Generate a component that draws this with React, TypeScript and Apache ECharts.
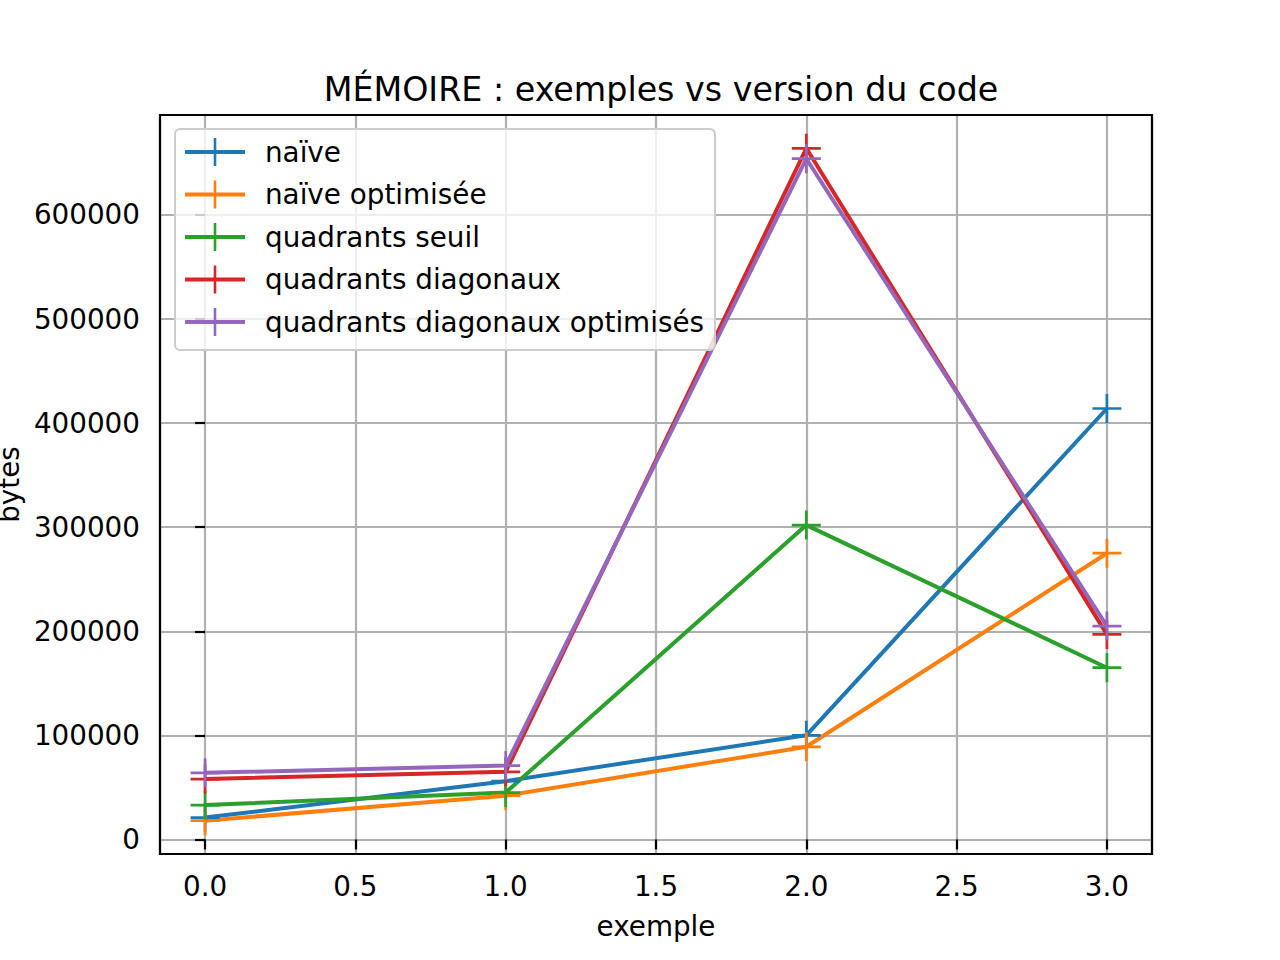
import React, { useEffect, useRef } from "react";
import * as echarts from "echarts";

const xValues = [0, 1, 2, 3];
const seriesNames = [
  "naïve",
  "naïve optimisée",
  "quadrants seuil",
  "quadrants diagonaux",
  "quadrants diagonaux optimisés",
];
const naive = [21000, 56000, 100000, 414000];
const naiveOpt = [18000, 42000, 89000, 275000];
const seuil = [33000, 45000, 302000, 165000];
const diag = [58000, 65000, 664000, 197000];
const diagOpt = [64000, 71000, 654000, 205000];
const colors = ["#1f77b4", "#ff7f0e", "#2ca02c", "#d62728", "#9467bd"];

const FONT = "DejaVu Sans";
const FS = 27.8;
const PLUS = "path://M-1.4,-15 H1.4 V-1.4 H15 V1.4 H1.4 V15 H-1.4 V1.4 H-15 V-1.4 H-1.4 Z";

const GRID = { left: 160, right: 128, top: 115, bottom: 106 };

export default function App() {
  const ref = useRef<HTMLDivElement>(null);
  useEffect(() => {
    if (!ref.current) return;
    const chart = echarts.init(ref.current, null, { renderer: "svg" });
    const all = [naive, naiveOpt, seuil, diag, diagOpt];
    chart.setOption({
      animation: false,
      backgroundColor: "#ffffff",
      title: {
        text: "MÉMOIRE : exemples vs version du code",
        left: 656,
        textAlign: "center",
        top: 68,
        textStyle: { fontFamily: FONT, fontSize: 33.3, fontWeight: "normal", color: "#000" },
      },
      grid: {
        ...GRID,
        show: false,
        outerBoundsMode: "none",
        containLabel: false,
      },
      graphic: [
        {
          type: "rect",
          shape: {
            x: GRID.left,
            y: GRID.top,
            width: 1280 - GRID.left - GRID.right,
            height: 960 - GRID.top - GRID.bottom,
          },
          style: { fill: "none", stroke: "#000", lineWidth: 2.2 },
          z: 50,
          silent: true,
        },
      ],
      legend: {
        orient: "vertical",
        left: 175,
        top: 129,
        itemWidth: 60,
        itemHeight: 35,
        itemGap: 14.5,
        padding: [9, 11, 14, 8],
        backgroundColor: "rgba(255,255,255,0.8)",
        borderColor: "#cccccc",
        borderWidth: 2,
        borderRadius: 5,
        z: 60,
        lineStyle: { width: 4 },
        textStyle: {
          fontFamily: FONT,
          fontSize: FS,
          color: "#000",
          padding: [0, 0, 0, 15],
        },
        data: seriesNames,
      },
      xAxis: {
        type: "value",
        min: -0.15,
        max: 3.15,
        splitNumber: 5,
        name: "exemple",
        nameLocation: "middle",
        nameGap: 58,
        nameTextStyle: { fontFamily: FONT, fontSize: FS, color: "#000" },
        axisLine: { show: false },
        axisTick: { show: true, inside: false, length: 10, lineStyle: { color: "#000", width: 2.2 } },
        axisLabel: {
          fontFamily: FONT,
          fontSize: FS,
          color: "#000",
          margin: 18,
          showMinLabel: false,
          showMaxLabel: false,
          formatter: (v: number) => v.toFixed(1),
        },
        splitLine: { show: true, lineStyle: { color: "#b0b0b0", width: 2.2 } },
      },
      yAxis: {
        type: "value",
        min: -14000,
        max: 696000,
        splitNumber: 5,
        name: "bytes",
        nameLocation: "middle",
        nameGap: 138,
        nameMoveOverlap: false,
        nameTextStyle: { fontFamily: FONT, fontSize: FS, color: "#000", lineHeight: 26 },
        axisLine: { show: false },
        axisTick: { show: true, inside: false, length: 10, lineStyle: { color: "#000", width: 2.2 } },
        axisLabel: {
          fontFamily: FONT,
          fontSize: FS,
          color: "#000",
          margin: 20,
          showMinLabel: false,
          showMaxLabel: false,
          formatter: (v: number) => String(Math.round(v)),
        },
        splitLine: { show: true, lineStyle: { color: "#b0b0b0", width: 2.2 } },
      },
      series: seriesNames.map((name, i) => ({
        name,
        type: "line",
        data: xValues.map((x, j) => [x, all[i][j]]),
        symbol: PLUS,
        symbolSize: 29,
        showAllSymbol: true,
        lineStyle: { color: colors[i], width: 4 },
        itemStyle: { color: colors[i] },
        emphasis: { disabled: true },
      })),
    });
    return () => chart.dispose();
  }, []);
  return (
    <div
      ref={ref}
      style={{ position: "absolute", left: 0, top: 0, width: 1280, height: 960 }}
    />
  );
}
